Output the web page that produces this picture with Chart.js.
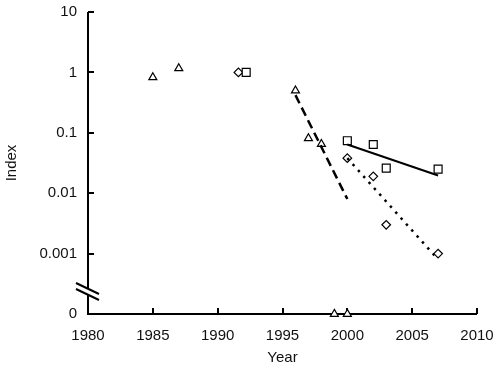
<!DOCTYPE html>
<html>
<head>
<meta charset="utf-8">
<script src="https://cdn.jsdelivr.net/npm/chart.js@4.4.0/dist/chart.umd.min.js"></script>
<style>
  html, body { margin: 0; padding: 0; background: #fff; }
  #wrap { width: 500px; height: 369px; }
</style>
</head>
<body>
<div id="wrap"><canvas id="indexChart" width="500" height="369"></canvas></div>
<script>
// Valores (0 = se dibuja sobre el corte del eje)
const triangleYears = [1985, 1987, 1996, 1997, 1998, 1999, 2000];
const triangleIndex = [0.83, 1.17, 0.5, 0.081, 0.065, 0, 0];

const squareYears = [1992.2, 2000, 2002, 2003, 2007];
const squareIndex = [1.0, 0.074, 0.064, 0.026, 0.025];

const diamondYears = [1991.6, 2000, 2002, 2003, 2007];
const diamondIndex = [1.0, 0.038, 0.019, 0.003, 0.001];

// Líneas de tendencia (extremos)
const dashedYears = [1996, 2000];
const dashedIndex = [0.42, 0.008];
const solidYears = [2000, 2007];
const solidIndex = [0.064, 0.0196];
const dottedYears = [2000, 2007];
const dottedIndex = [0.038, 0.0008];

const yTickValues = [0.0001, 0.001, 0.01, 0.1, 1, 10];
const yTickLabels = ["0", "0.001", "0.01", "0.1", "1", "10"];
const ZERO_POS = 0.0001; // el "0" del eje cae en esta posición

const toPoints = (xs, ys) => xs.map((x, i) => ({ x: x, y: ys[i] === 0 ? ZERO_POS : ys[i] }));

const font = { family: "'Liberation Sans', Arial, sans-serif", size: 15 };

// Ejes propios: marcas hacia adentro y corte del eje Y
const axisPlugin = {
  id: "axisPlugin",
  beforeDatasetsDraw(chart) {
    const ctx = chart.ctx;
    const xs = chart.scales.x, ys = chart.scales.y;
    const a = chart.chartArea;
    ctx.save();
    ctx.strokeStyle = "#000";
    ctx.lineWidth = 2;
    ctx.beginPath();
    ctx.moveTo(a.left, a.top);
    ctx.lineTo(a.left, a.bottom);
    ctx.lineTo(a.right, a.bottom);
    ctx.stroke();
    ctx.beginPath();
    yTickValues.forEach(v => {
      if (v === ZERO_POS) return;
      const py = Math.round(ys.getPixelForValue(v));
      ctx.moveTo(a.left, py);
      ctx.lineTo(a.left + 6, py);
    });
    for (let yr = 1985; yr <= 2010; yr += 5) {
      const px = Math.round(xs.getPixelForValue(yr));
      ctx.moveTo(px, a.bottom);
      ctx.lineTo(px, a.bottom - 6);
    }
    ctx.stroke();
    // corte del eje
    const by = a.bottom - 23;
    ctx.fillStyle = "#fff";
    ctx.beginPath();
    ctx.moveTo(a.left - 11, by - 8);
    ctx.lineTo(a.left + 11, by + 3);
    ctx.lineTo(a.left + 11, by + 9);
    ctx.lineTo(a.left - 11, by - 2);
    ctx.closePath();
    ctx.fill();
    ctx.beginPath();
    ctx.moveTo(a.left - 12, by - 8);
    ctx.lineTo(a.left + 11, by + 3);
    ctx.moveTo(a.left - 12, by - 2);
    ctx.lineTo(a.left + 11, by + 9);
    ctx.stroke();
    ctx.restore();
  }
};

const markerStyle = { borderColor: "#000", backgroundColor: "#fff", borderWidth: 1.2, pointBorderWidth: 1.2, clip: false };

new Chart(document.getElementById("indexChart"), {
  type: "scatter",
  data: {
    datasets: [
      { label: "dashed", type: "line", data: toPoints(dashedYears, dashedIndex), borderColor: "#000",
        borderWidth: 2.5, borderDash: [9, 5], pointRadius: 0, fill: false },
      { label: "solid", type: "line", data: toPoints(solidYears, solidIndex), borderColor: "#000",
        borderWidth: 2, pointRadius: 0, fill: false },
      { label: "dotted", type: "line", data: toPoints(dottedYears, dottedIndex), borderColor: "#000",
        borderWidth: 2.5, borderDash: [2.5, 5.5], pointRadius: 0, fill: false },
      { label: "triangles", data: toPoints(triangleYears, triangleIndex), pointStyle: "triangle",
        pointRadius: 4.6, ...markerStyle },
      { label: "squares", data: toPoints(squareYears, squareIndex), pointStyle: "rect",
        pointRadius: 5.6, ...markerStyle },
      { label: "diamonds", data: toPoints(diamondYears, diamondIndex), pointStyle: "rectRot",
        pointRadius: 4.3, ...markerStyle }
    ]
  },
  options: {
    responsive: false,
    animation: false,
    layout: { padding: { top: 12, right: 23, left: 0, bottom: 0 } },
    plugins: { legend: { display: false }, tooltip: { enabled: false } },
    scales: {
      x: {
        type: "linear",
        min: 1980, max: 2010,
        grid: { display: false, drawTicks: false },
        border: { display: false },
        ticks: { stepSize: 5, color: "#111", font: font, padding: 13, callback: v => String(v) },
        title: { display: true, text: "Year", color: "#111", font: font, padding: { top: 0, bottom: 2 } },
        afterFit: s => { s.height = 55; s.paddingLeft = 0; s.paddingRight = 0; }
      },
      y: {
        type: "logarithmic",
        min: 0.0001, max: 10,
        grid: { display: false, drawTicks: false },
        border: { display: false },
        afterBuildTicks: s => { s.ticks = yTickValues.map(v => ({ value: v })); },
        ticks: { color: "#111", font: font, padding: 11,
          callback: v => { const i = yTickValues.findIndex(t => Math.abs(t - v) / t < 1e-6); return i >= 0 ? yTickLabels[i] : ""; } },
        title: { display: true, text: "Index", color: "#111", font: font, padding: { top: 3, bottom: 0 } },
        afterFit: s => { s.width = 88; s.paddingTop = 0; s.paddingBottom = 0; }
      }
    }
  },
  plugins: [axisPlugin]
});
</script>
</body>
</html>
